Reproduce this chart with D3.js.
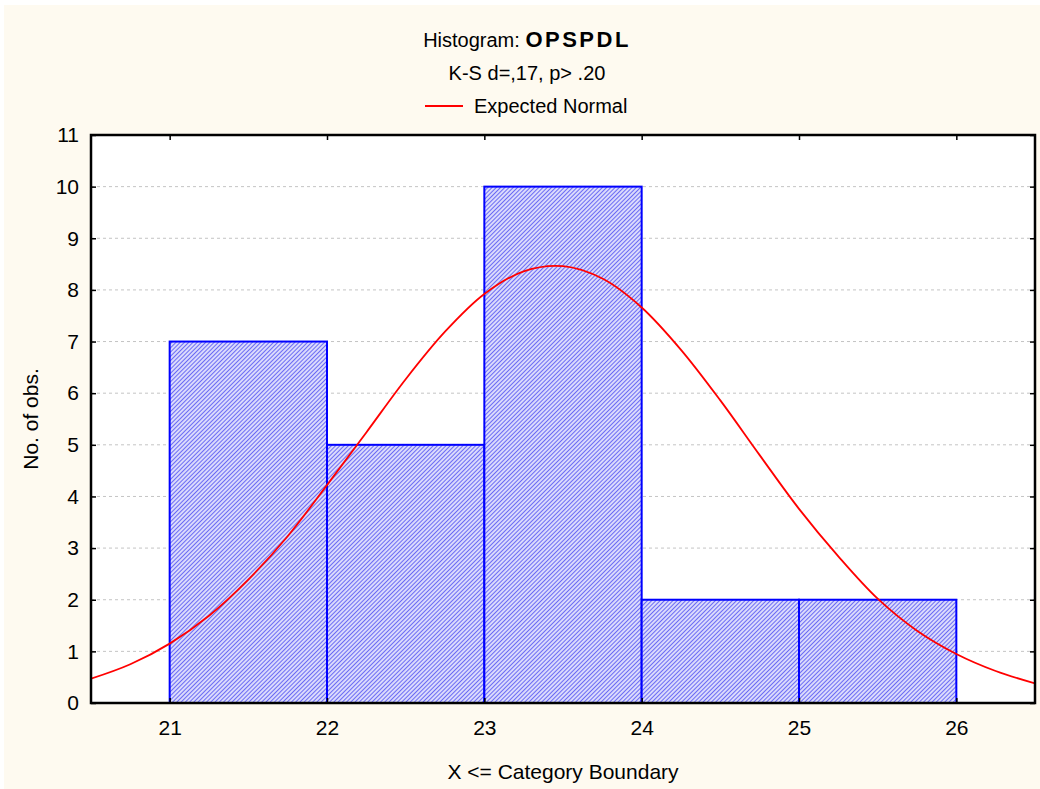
<!DOCTYPE html>
<html>
<head>
<meta charset="utf-8">
<script src="https://cdn.jsdelivr.net/npm/d3@7"></script>
<style>
  html, body { margin: 0; padding: 0; background: #ffffff; }
  svg { display: block; }
  text { font-family: "Liberation Sans", Arial, sans-serif; fill: #000; }
</style>
</head>
<body>
<svg id="chart" width="1040" height="789"></svg>
<script>
// Histogram bins: [lower, upper] boundaries and observed counts
const binLower = [21, 22, 23, 24, 25];
const binUpper = [22, 23, 24, 25, 26];
const counts = [7, 5, 10, 2, 2];

// Expected normal curve, sampled along the x range
const normalX = [20.5, 20.75, 21, 21.25, 21.5, 21.75, 22, 22.25, 22.5, 22.75, 23, 23.25, 23.5,
                 23.75, 24, 24.25, 24.5, 24.75, 25, 25.25, 25.5, 25.75, 26, 26.25, 26.5];
const normalY = [0.47, 0.75, 1.15, 1.69, 2.39, 3.23, 4.22, 5.24, 6.27, 7.19, 7.92, 8.36, 8.46,
                 8.22, 7.66, 6.84, 5.86, 4.80, 3.76, 2.84, 2.02, 1.40, 0.95, 0.62, 0.38];

// Axis ticks
const xTicks = [21, 22, 23, 24, 25, 26];
const yTicks = [0, 1, 2, 3, 4, 5, 6, 7, 8, 9, 10, 11];

const svg = d3.select("#chart");
const W = 1040, H = 789;
const plot = { left: 91, right: 1035, top: 135, bottom: 703 };
const FS = 21;

// Panel background
svg.append("rect").attr("x", 4).attr("y", 5).attr("width", W - 4).attr("height", H - 5)
  .attr("fill", "#fefaf0");

const x = d3.scaleLinear().domain([20.5, 26.5]).range([plot.left, plot.right]);
const y = d3.scaleLinear().domain([0, 11]).range([plot.bottom, plot.top]);

// Hatch pattern for the bars
const defs = svg.append("defs");
const pat = defs.append("pattern").attr("id", "hatch")
  .attr("patternUnits", "userSpaceOnUse").attr("width", 3).attr("height", 3)
  .attr("patternTransform", "rotate(45)");
pat.append("rect").attr("width", 3).attr("height", 3).attr("fill", "#dadafc");
pat.append("line").attr("x1", 0).attr("y1", 0).attr("x2", 0).attr("y2", 3)
  .attr("stroke", "#4646f2").attr("stroke-width", 1.5);

// Plot area
svg.append("rect").attr("x", plot.left).attr("y", plot.top)
  .attr("width", plot.right - plot.left).attr("height", plot.bottom - plot.top)
  .attr("fill", "#ffffff");

// Horizontal grid lines
svg.append("g").selectAll("line").data(yTicks.filter(d => d > 0 && d < 11)).join("line")
  .attr("x1", plot.left).attr("x2", plot.right)
  .attr("y1", d => y(d)).attr("y2", d => y(d))
  .attr("stroke", "#c4c4c4").attr("stroke-width", 1).attr("stroke-dasharray", "3,3");

// Bars
svg.append("g").selectAll("rect").data(counts).join("rect")
  .attr("x", (d, i) => x(binLower[i]))
  .attr("y", d => y(d))
  .attr("width", (d, i) => x(binUpper[i]) - x(binLower[i]))
  .attr("height", d => y(0) - y(d))
  .attr("fill", "url(#hatch)")
  .attr("stroke", "#0000ff").attr("stroke-width", 2);

// Expected normal curve
const clipId = "plotClip";
defs.append("clipPath").attr("id", clipId).append("rect")
  .attr("x", plot.left).attr("y", plot.top)
  .attr("width", plot.right - plot.left).attr("height", plot.bottom - plot.top);
const line = d3.line().x((d, i) => x(normalX[i])).y(d => y(d)).curve(d3.curveCatmullRom.alpha(0.5));
svg.append("path").datum(normalY)
  .attr("d", line).attr("fill", "none")
  .attr("stroke", "#ff0000").attr("stroke-width", 1.8)
  .attr("clip-path", `url(#${clipId})`);

// Axes with inward ticks on all four sides
const tickLen = 5;
svg.append("g").attr("transform", `translate(0,${plot.bottom})`)
  .call(d3.axisBottom(x).tickValues(xTicks).tickSize(-tickLen).tickPadding(17).tickFormat(d3.format("d")))
  .call(g => g.select(".domain").remove());
svg.append("g").attr("transform", `translate(0,${plot.top})`)
  .call(d3.axisTop(x).tickValues(xTicks).tickSize(-tickLen).tickFormat(""))
  .call(g => g.select(".domain").remove());
svg.append("g").attr("transform", `translate(${plot.left},0)`)
  .call(d3.axisLeft(y).tickValues(yTicks).tickSize(-tickLen).tickPadding(12).tickFormat(d3.format("d")))
  .call(g => g.select(".domain").remove());
svg.append("g").attr("transform", `translate(${plot.right},0)`)
  .call(d3.axisRight(y).tickValues(yTicks).tickSize(-tickLen).tickFormat(""))
  .call(g => g.select(".domain").remove());
svg.selectAll(".tick line").attr("stroke", "#000").attr("stroke-width", 1.5);
svg.selectAll(".tick text").attr("font-size", FS)
  .attr("font-family", "'Liberation Sans', Arial, sans-serif").attr("fill", "#000");

// Plot frame
svg.append("rect").attr("x", plot.left).attr("y", plot.top)
  .attr("width", plot.right - plot.left).attr("height", plot.bottom - plot.top)
  .attr("fill", "none").attr("stroke", "#000").attr("stroke-width", 2.5);

// Titles
const title = svg.append("text").attr("x", 527).attr("y", 47).attr("text-anchor", "middle");
title.append("tspan").attr("font-size", 20).text("Histogram: ");
title.append("tspan").attr("font-size", 22).attr("font-weight", "bold")
  .attr("letter-spacing", 2.5).text("OPSPDL");

svg.append("text").attr("x", 527).attr("y", 80).attr("text-anchor", "middle")
  .attr("font-size", 20).text("K-S d=,17, p> .20");

// Legend
svg.append("line").attr("x1", 425).attr("x2", 463).attr("y1", 106).attr("y2", 106)
  .attr("stroke", "#ff0000").attr("stroke-width", 2);
svg.append("text").attr("x", 474).attr("y", 113).attr("font-size", 20).text("Expected Normal");

// Axis titles
svg.append("text").attr("x", 563).attr("y", 779).attr("text-anchor", "middle")
  .attr("font-size", FS).text("X <= Category Boundary");
svg.append("text").attr("transform", `translate(38,${(plot.top + plot.bottom) / 2}) rotate(-90)`)
  .attr("text-anchor", "middle").attr("font-size", FS).text("No. of obs.");
</script>
</body>
</html>
